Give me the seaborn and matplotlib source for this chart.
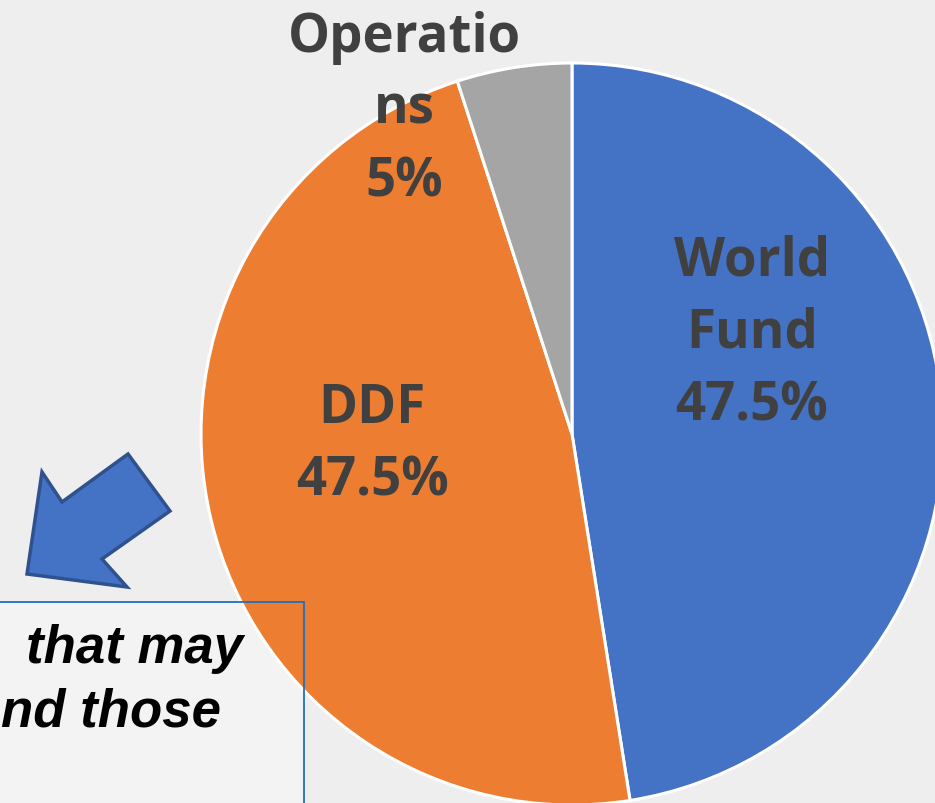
import matplotlib
matplotlib.use("Agg")
import matplotlib.pyplot as plt
import seaborn as sns
from matplotlib.patches import Polygon, Rectangle

# budget split
segments = ["World Fund", "DDF", "Operations"]
shares = [47.5, 47.5, 5.0]
slice_colors = ["#4472C4", "#ED7D31", "#A5A5A5"]

sns.set_theme(style="white")
plt.rcParams['font.family'] = ['Open Sans', 'DejaVu Sans']

W, H = 935, 804
fig = plt.figure(figsize=(W / 100, H / 100), dpi=100)
fig.patch.set_facecolor('#eeeeee')
ax = fig.add_axes([0, 0, 1, 1])
ax.set_facecolor('#eeeeee')

# text box fill sits under the pie
box = Rectangle((-20, -20), 324, H - 603 + 20, facecolor='white', alpha=0.35,
                edgecolor='none', zorder=0)
ax.add_patch(box)

# pie, clockwise from 12 o'clock
wedges, _ = ax.pie(shares, colors=slice_colors, startangle=90, counterclock=False,
                   center=(572, H - 435), radius=371, frame=True,
                   wedgeprops={'edgecolor': 'white', 'linewidth': 2.2, 'zorder': 2})
ax.set_xlim(0, W)
ax.set_ylim(0, H)
ax.set_aspect('equal')
ax.axis('off')

lab = dict(color='#404040', fontsize=38, fontweight='bold', ha='center', va='center',
           linespacing=1.45, zorder=8)
ax.text(752, H - 334, "World\nFund\n47.5%", **lab)
ax.text(372, H - 445, "DDF\n47.5%", **lab)
ax.text(404, H - 110, "Operatio\nns\n5%", **lab)

# arrow shape pointing down-left
arrow = Polygon([(27, H - 575), (42, H - 473), (62, H - 503), (128, H - 455),
                 (170, H - 512), (102, H - 560), (127, H - 588)],
                closed=True, facecolor='#4472C4', edgecolor='#2F528F', lw=2.5, zorder=5)
ax.add_patch(arrow)

# border of the cropped text box is drawn over the pie
border = Rectangle((-20, -20), 324, H - 603 + 20, facecolor='none',
                   edgecolor='#1F6FBF', lw=1.3, zorder=6)
ax.add_patch(border)

txt = dict(color='black', fontsize=38, fontweight='bold', fontstyle='italic',
           family=['Liberation Sans', 'DejaVu Sans'], ha='right', va='baseline', zorder=7)
ax.text(243, H - 663, "that may", **txt)
ax.text(221, H - 727, "nd those", **txt)

fig.savefig("out.png", dpi=100, facecolor=fig.get_facecolor())
